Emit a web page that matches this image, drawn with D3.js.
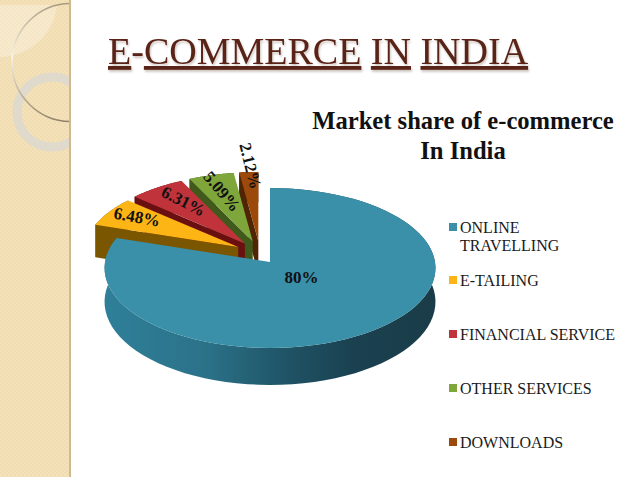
<!DOCTYPE html>
<html>
<head>
<meta charset="utf-8">
<script src="https://cdn.jsdelivr.net/npm/d3@7"></script>
<style>
  html, body { margin: 0; padding: 0; background: #fff; }
  svg { display: block; font-family: "Liberation Serif", serif; }
</style>
</head>
<body>
<svg id="chart" width="638" height="479"></svg>
<script>
// Chart data
const categories = ['ONLINE TRAVELLING', 'E-TAILING', 'FINANCIAL SERVICE', 'OTHER SERVICES', 'DOWNLOADS'];
const shares = [80, 6.48, 6.31, 5.09, 2.12];
const shareLabels = ['80%', '6.48%', '6.31%', '5.09%', '2.12%'];
const titleWords = ['E', '-', 'COMMERCE', ' ', 'IN', ' ', 'INDIA'];
const chartTitle = ['Market share of e-commerce', 'In India'];

// Colours per slice
const topColors = ['#3a8fa9', '#fdb515', '#c0333b', '#7fa63a', '#9c4a0c'];
const wallColors = ['#2c6f86', '#7a5600', '#6b1010', '#3f5a1a', '#4f2506'];
const labelRadius = [0.27, 0.74, 0.7, 0.72, 1.05];
const labelRotate = [0, 10, 27, 50, 76];
const labelNudge = [[5, -3], [2, -2], [6, 0], [2, 2], [3, 2]];

const svg = d3.select('#chart');
const defs = svg.append('defs');

// Side panel
const dither = defs.append('pattern').attr('id', 'dither')
  .attr('width', 4).attr('height', 4).attr('patternUnits', 'userSpaceOnUse');
dither.append('rect').attr('width', 4).attr('height', 4).attr('fill', '#f4e2ba');
dither.append('rect').attr('width', 2).attr('height', 2).attr('fill', '#f0dcb0');
dither.append('rect').attr('x', 2).attr('y', 2).attr('width', 2).attr('height', 2).attr('fill', '#f0dcb0');

defs.append('clipPath').attr('id', 'panelClip')
  .append('rect').attr('width', 70).attr('height', 477);

const panel = svg.append('g').attr('clip-path', 'url(#panelClip)');
panel.append('rect').attr('width', 70).attr('height', 477).attr('fill', 'url(#dither)');
panel.append('path')
  .attr('d', 'M0 5H57A58 58 0 0 1 0 57Z')
  .attr('fill', '#f7eeda').attr('fill-opacity', 0.55);
panel.append('circle').attr('cx', 52).attr('cy', 112).attr('r', 35)
  .attr('fill', 'none').attr('stroke', '#dfdacb').attr('stroke-width', 9);

const ringGrad = defs.append('linearGradient').attr('id', 'ringGrad')
  .attr('x1', 0).attr('y1', 0).attr('x2', 0).attr('y2', 1);
ringGrad.append('stop').attr('offset', '0%').attr('stop-color', '#a89a80');
ringGrad.append('stop').attr('offset', '45%').attr('stop-color', '#fbf6e8');
ringGrad.append('stop').attr('offset', '100%').attr('stop-color', '#8f8268');
panel.append('circle').attr('cx', 71).attr('cy', 62.5).attr('r', 59)
  .attr('fill', 'none').attr('stroke', 'url(#ringGrad)').attr('stroke-width', 1.6);

svg.append('rect').attr('x', 69).attr('width', 2).attr('height', 477).attr('fill', '#cdb994');

// Heading
svg.append('text')
  .attr('x', 108).attr('y', 64)
  .attr('font-size', 38)
  .attr('fill', '#5a2317')
  .attr('xml:space', 'preserve')
  .style('white-space', 'pre')
  .style('text-underline-offset', '5px')
  .style('filter', 'drop-shadow(1px 2px 1px rgba(90,60,40,0.3))')
  .selectAll('tspan')
  .data(titleWords)
  .join('tspan')
  .style('text-decoration', d => (d === '-' || d === ' ') ? 'none' : 'underline')
  .text(d => d);

// Disc projection with a little perspective, u/v are the unit disc coordinates
const centre = { x: 270, y: 262 };
const radiusX = 165;
const radiusY = 79.5;
const tilt = 0.075;
const sliceScale = 0.93;

const sx = d3.scaleLinear().domain([-1, 1]).range([-radiusX, radiusX]);
const sy = d3.scaleLinear().domain([-1, 1]).range([radiusY, -radiusY]);
const depth = d3.scaleLinear().domain([-1, 1]).range([37, 30]);

function project(angle, r, origin) {
  const u = Math.sin(angle) * r;
  const v = Math.cos(angle) * r;
  const k = 1 + tilt * v;
  return { x: origin.x + sx(u) / k, y: origin.y + sy(v) / k, d: depth(v) };
}

const line = d3.line().x(d => d.x).y(d => d.y);
const arcPoints = (a0, a1, r, origin) => d3.range(0, 81).map(i =>
  project(a0 + (a1 - a0) * i / 80, r, origin));
const drop = pts => pts.map(p => ({ x: p.x, y: p.y + p.d }));

const arcs = d3.pie().sort(null).value(d => d)(shares);

// Exploded slices move off the main disc
const originOf = (d, i) => {
  if (i === 0) return centre;
  const mid = (d.startAngle + d.endAngle) / 2;
  return {
    x: centre.x - 10 + 25 * Math.sin(mid),
    y: centre.y - 9 - 12 * Math.cos(mid)
  };
};

const wallGrad = defs.append('linearGradient').attr('id', 'wallGrad')
  .attr('gradientUnits', 'userSpaceOnUse')
  .attr('x1', 106).attr('y1', 0).attr('x2', 436).attr('y2', 0);
[[0, '#2f7f99'], [0.3, '#2b7289'], [0.55, '#1f5365'], [0.75, '#1a4150'], [1, '#1a3c48']]
  .forEach(s => wallGrad.append('stop').attr('offset', s[0]).attr('stop-color', s[1]));

const pie = svg.append('g');

// Back to front: small slices right to left, then the big one
d3.range(arcs.length - 1, 0, -1).forEach(i => {
  const d = arcs[i];
  const o = originOf(d, i);
  const g = pie.append('g');
  const rim = arcPoints(d.startAngle, d.endAngle, sliceScale, o);
  const apex = { x: o.x, y: o.y, d: depth(0) };
  const outer = rim[0];

  g.append('path')
    .attr('d', line(rim.concat(drop(rim).reverse())) + 'Z')
    .attr('fill', wallColors[i]);
  g.append('path')
    .attr('d', line([outer, apex].concat(drop([apex, outer]))) + 'Z')
    .attr('fill', wallColors[i]);
  g.append('path')
    .attr('d', line([apex].concat(rim)) + 'Z')
    .attr('fill', topColors[i]);
});

const main = arcs[0];
const rim = arcPoints(main.startAngle, main.endAngle, 1, centre);
pie.append('path')
  .attr('d', line(rim.concat(drop(rim).reverse())) + 'Z')
  .attr('fill', 'url(#wallGrad)');
pie.append('path')
  .attr('d', line([centre].concat(rim)) + 'Z')
  .attr('fill', topColors[0]);

// Share labels
svg.append('g')
  .selectAll('text')
  .data(arcs)
  .join('text')
  .attr('transform', (d, i) => {
    const p = project((d.startAngle + d.endAngle) / 2, labelRadius[i], originOf(d, i));
    return `translate(${p.x + labelNudge[i][0]},${p.y + labelNudge[i][1]}) rotate(${labelRotate[i]})`;
  })
  .attr('text-anchor', 'middle')
  .attr('dy', '0.35em')
  .attr('font-size', 17)
  .attr('font-weight', 'bold')
  .attr('fill', '#111')
  .text((d, i) => shareLabels[i]);

// Chart title
svg.append('g')
  .selectAll('text')
  .data(chartTitle)
  .join('text')
  .attr('x', 463)
  .attr('y', (d, i) => 129 + i * 30)
  .attr('text-anchor', 'middle')
  .attr('font-size', 24.6)
  .attr('font-weight', 'bold')
  .attr('fill', '#111')
  .text(d => d);

// Legend, first entry wraps on two lines
const legendY = d3.scalePoint().domain(d3.range(1, 5)).range([280, 442]);
const legend = svg.append('g')
  .selectAll('g')
  .data(categories)
  .join('g')
  .attr('transform', (d, i) => `translate(449,${i === 0 ? 227 : legendY(i)})`);
legend.append('rect')
  .attr('y', -4).attr('width', 8).attr('height', 8)
  .attr('fill', (d, i) => topColors[i]);
legend.append('text')
  .attr('x', 11).attr('y', 5.5)
  .attr('font-size', 16)
  .attr('fill', '#1a1a1a')
  .each(function (d, i) {
    const lines = i === 0 ? d.split(' ') : [d];
    d3.select(this).selectAll('tspan')
      .data(lines)
      .join('tspan')
      .attr('x', 11)
      .attr('dy', (l, j) => j === 0 ? 0 : 18.5)
      .text(l => l);
  });
</script>
</body>
</html>
